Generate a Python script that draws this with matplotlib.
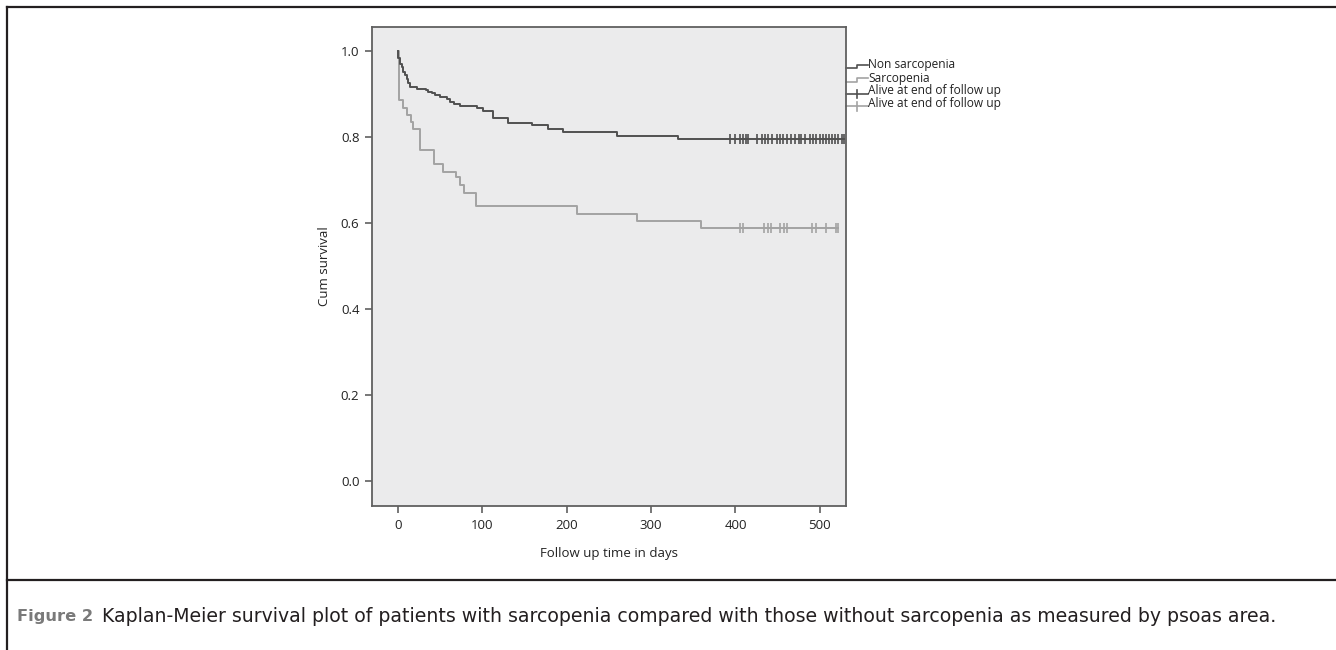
import numpy as np
import matplotlib
matplotlib.use("Agg")
import matplotlib.pyplot as plt
from matplotlib.lines import Line2D

# Kaplan-Meier step values (days, cumulative survival)
nonsarc_t = [0, 0.4, 2.4, 4.3, 6.3, 8.3, 10.3, 12.2, 14.2, 22, 33, 36, 40, 44, 50,
             58, 61, 66, 73, 93, 101, 113, 130, 159, 178, 195, 259, 332]
nonsarc_s = [1.0, 0.983, 0.971, 0.963, 0.952, 0.944, 0.934, 0.925, 0.917, 0.912,
             0.909, 0.905, 0.902, 0.898, 0.892, 0.888, 0.882, 0.877, 0.872, 0.867,
             0.861, 0.844, 0.833, 0.828, 0.818, 0.811, 0.803, 0.795]
nonsarc_cens = [393, 399, 405, 409, 412, 415, 425, 431, 435, 439, 443, 449, 453, 456,
                461, 466, 470, 475, 478, 483, 488, 492, 496, 500, 504, 507, 511, 514,
                518, 522, 526, 529]

sarc_t = [0, 1.2, 6.3, 11, 15, 18, 26, 43, 53, 69, 73, 78, 92, 212, 283, 359]
sarc_s = [1.0, 0.886, 0.867, 0.851, 0.836, 0.818, 0.77, 0.737, 0.719, 0.706, 0.688,
          0.670, 0.639, 0.621, 0.605, 0.588]
sarc_cens = [405, 409, 434, 439, 442, 453, 457, 461, 491, 495, 507, 519, 522]

legend_labels = ["Non sarcopenia", "Sarcopenia",
                 "Alive at end of follow up", "Alive at end of follow up"]

dark = "#505050"
light = "#a3a3a3"
font = ["Open Sans", "DejaVu Sans"]

plt.rcParams["font.family"] = font

fig = plt.figure(figsize=(13.36, 6.5), dpi=100)
ax = fig.add_axes([0.2784, 0.2215, 0.3548, 0.737])
ax.set_facecolor("#ebebec")


def km_curve(t, s, cens, color):
    t = np.array(t, dtype=float)
    s = np.array(s, dtype=float)
    cens = np.array(cens, dtype=float)
    t_all = np.append(t, cens.max())
    s_all = np.append(s, s[-1])
    ax.step(t_all, s_all, where="post", color=color, lw=1.4)
    idx = np.searchsorted(t, cens, side="right") - 1
    ax.plot(cens, s[idx], ls="none", marker="|", ms=7, mew=1.2, color=color)


km_curve(sarc_t, sarc_s, sarc_cens, light)
km_curve(nonsarc_t, nonsarc_s, nonsarc_cens, dark)

ax.set_xlim(-31, 531)
ax.set_ylim(-0.058, 1.056)
ax.set_xticks([0, 100, 200, 300, 400, 500])
ax.set_yticks([0.0, 0.2, 0.4, 0.6, 0.8, 1.0])
ax.set_yticklabels(["0.0", "0.2", "0.4", "0.6", "0.8", "1.0"])
for sp in ax.spines.values():
    sp.set_color("#606060")
    sp.set_linewidth(1.3)
ax.tick_params(direction="out", length=5, width=1.2, color="#606060",
               labelsize=9.5, labelcolor="#222222", pad=4)
ax.set_xlabel("Follow up time in days", fontsize=9.5, color="#222222", labelpad=11)
ax.set_ylabel("Cum survival", fontsize=9.5, color="#222222", labelpad=7)

# legend outside the plot, SPSS style
rows = [0.914, 0.886, 0.860, 0.834]
for i, (lab, col) in enumerate(zip(legend_labels, [dark, light, dark, light])):
    y = rows[i]
    if i < 2:
        xs = [1.0, 1.023, 1.023, 1.046]
        ys = [y, y, y + 0.007, y + 0.007]
        ax.add_line(Line2D(xs, ys, transform=ax.transAxes, color=col, lw=1.2,
                           clip_on=False))
    else:
        ax.add_line(Line2D([1.0, 1.046], [y, y], transform=ax.transAxes, color=col,
                           lw=1.2, clip_on=False))
        ax.add_line(Line2D([1.023, 1.023], [y - 0.009, y + 0.009],
                           transform=ax.transAxes, color=col, lw=1.2, clip_on=False))
    ax.text(1.047, y + 0.007, lab, transform=ax.transAxes, fontsize=8.6,
            color="#222222", va="center", ha="left")

# page frame around figure and caption
frame = "#231f20"
fig.add_artist(Line2D([0.0055, 1.0], [0.9895, 0.9895], color=frame, lw=1.6))
fig.add_artist(Line2D([0.0055, 0.0055], [0.0, 0.9895], color=frame, lw=1.6))
fig.add_artist(Line2D([0.0055, 1.0], [0.1077, 0.1077], color=frame, lw=1.6))

cap_font = ["DejaVu Sans"]
fig.text(0.0127, 0.051, "Figure 2", fontsize=11.7, color="#7a7a7a",
         fontweight="bold", family=cap_font, va="center")
fig.text(0.0765, 0.051,
         "Kaplan-Meier survival plot of patients with sarcopenia compared with "
         "those without sarcopenia as measured by psoas area.",
         fontsize=13.6, color="#231f20", family=cap_font, va="center")

fig.savefig("out.png", dpi=100)
